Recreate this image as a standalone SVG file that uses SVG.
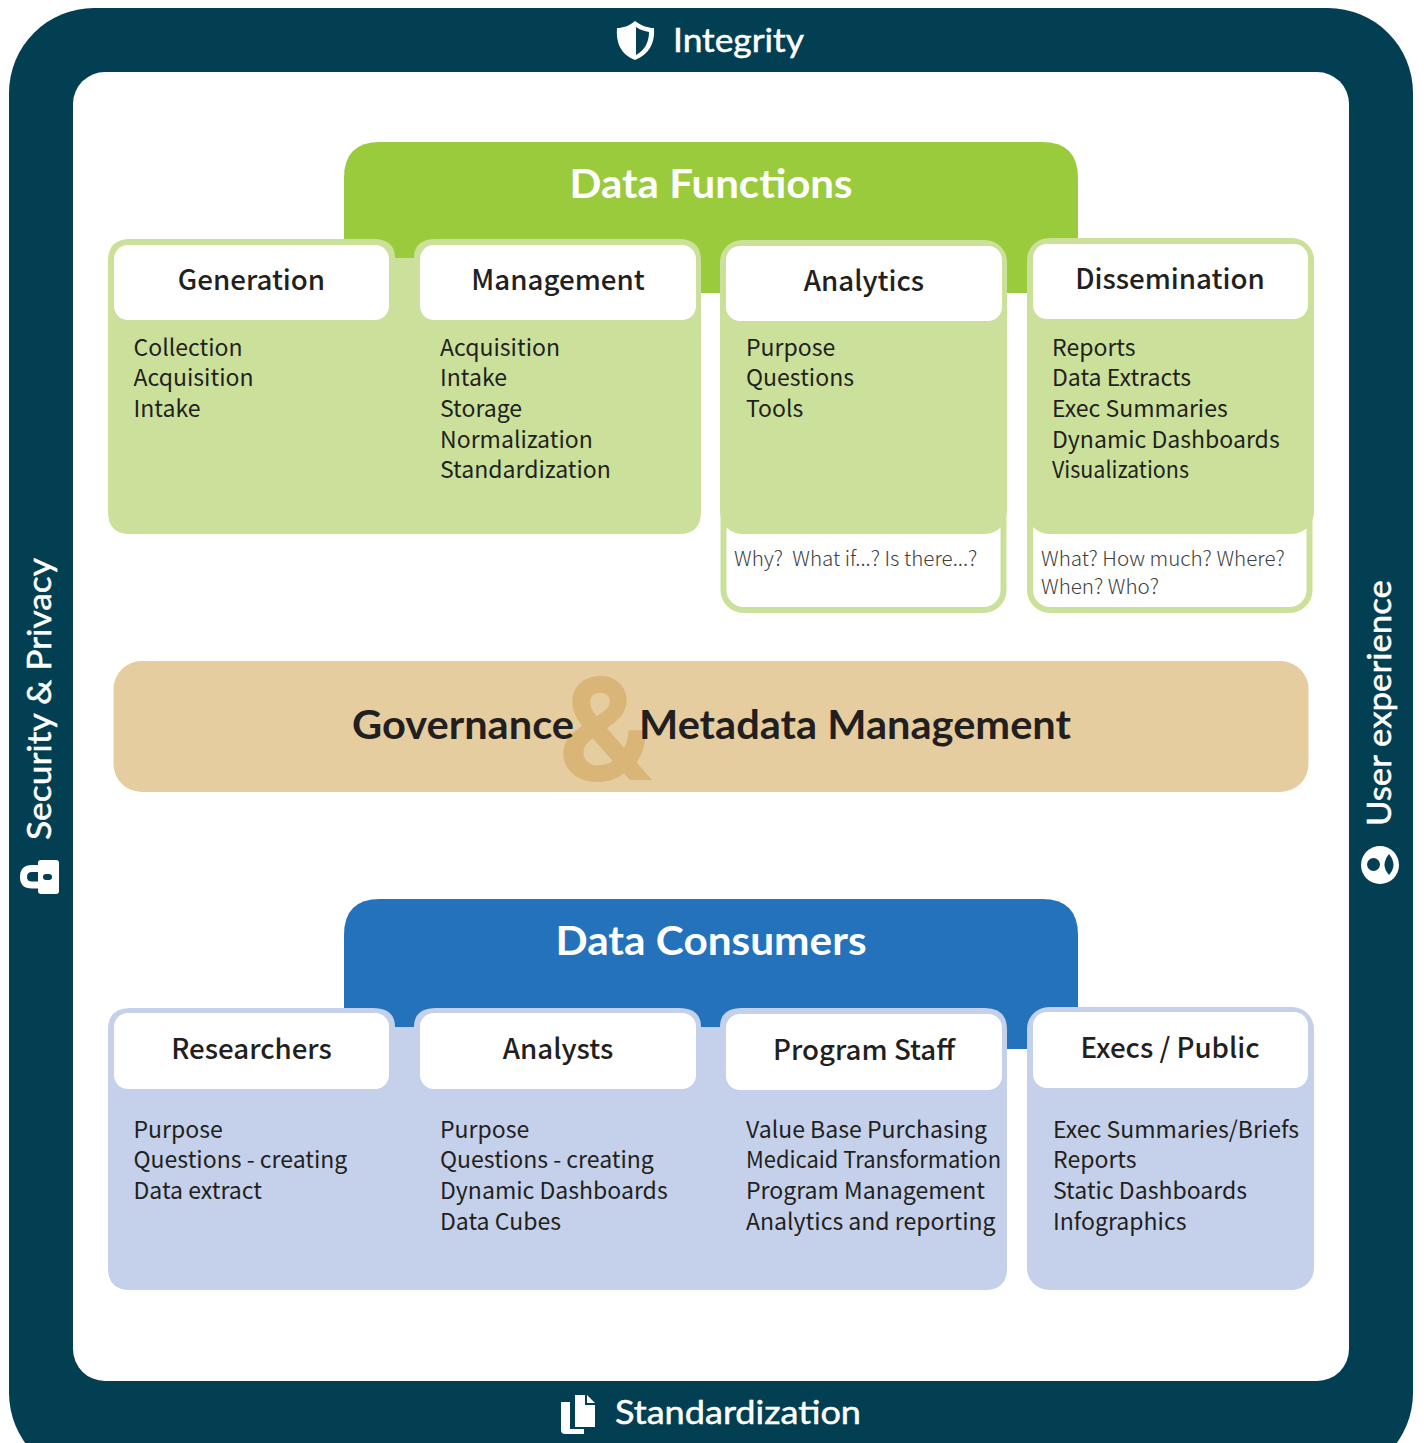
<svg xmlns="http://www.w3.org/2000/svg" width="1424" height="1443" viewBox="0 0 1424 1443">
<style>
.h{font-family:"Lato","Liberation Sans",sans-serif;font-weight:700}
.s{font-family:"Lato","Liberation Sans",sans-serif;font-weight:400;stroke:#fff;stroke-width:.5px}
.w{fill:#fff}
.t{font-family:"Noto Sans CJK SC","Noto Sans",sans-serif;font-size:23.05px;fill:#231f20}
.hd{font-family:"Noto Sans CJK SC","Noto Sans",sans-serif;font-size:27.7px;font-weight:500;fill:#231f20;text-anchor:middle}
.q{font-family:"Noto Sans CJK SC","Noto Sans",sans-serif;font-size:20.6px;font-weight:300;fill:#404040;white-space:pre}
.lg{fill:#cbe19b}
.lb{fill:#c5d1ea}
.hb{fill:#fff}
</style>
<g id="frame">
<rect x="9" y="8" width="1404" height="1470" rx="85" fill="#023f52"/>
<rect y="1443" width="1424" height="10" fill="#fff"/>
<rect x="73" y="72" width="1276" height="1309" rx="32" fill="#fff"/>
</g>
<g id="integrity">
<path class="w" d="M635 21 C642 26 648 28 654 28 C655 42 650 54 635 60 C620 54 616 42 617 28 C623 28 629 26 635 21Z"/>
<path fill="#023f52" d="M636 27 C640 30 645 31 649 32 C649 42 645 50 636 55Z"/>
<text class="s w" x="673" y="51.500" font-size="33" textLength="131" lengthAdjust="spacingAndGlyphs">Integrity</text>
</g>
<g id="standardization">
<path class="w" d="M575 1395 H587 L595 1403 V1427 H575Z"/>
<path class="w" d="M561 1402 H570 V1429 H584 V1434 H565 Q561 1434 561 1430Z"/>
<path fill="#023f52" d="M585 1395 H587 V1403 H595 V1405 H585Z"/>
<text class="s w" x="615" y="1424" font-size="33" textLength="246" lengthAdjust="spacingAndGlyphs">Standardization</text>
</g>
<g id="security">
<rect class="w" x="38" y="860" width="21" height="34" rx="3"/>
<path fill="none" stroke="#fff" stroke-width="7" d="M40 868.500 H32 Q23.500 868.500 23.500 877 Q23.500 885 32 885 H40"/>
<rect x="43" y="874" width="9" height="6" rx="3" fill="#023f52"/>
<text class="s w" transform="translate(51 840) rotate(-90)" font-size="33" textLength="282" lengthAdjust="spacingAndGlyphs">Security &amp; Privacy</text>
</g>
<g id="user-experience">
<circle class="w" cx="1380" cy="865" r="19"/>
<circle cx="1373.500" cy="864.500" r="6.500" fill="#023f52"/>
<path fill="#023f52" d="M1389 854 Q1380 865 1389 875 Q1398 865 1389 854Z"/>
<text class="s w" transform="translate(1391 826) rotate(-90)" font-size="33" textLength="246" lengthAdjust="spacingAndGlyphs">User experience</text>
</g>
<g id="data-functions">
<path fill="#9acb3c" d="M344 293 V178 Q344 142 380 142 H1042 Q1078 142 1078 178 V293Z"/>
<text class="h w" x="711" y="197.500" font-size="40" text-anchor="middle" textLength="283" lengthAdjust="spacingAndGlyphs">Data Functions</text>
</g>
<g id="generation-management">
<path class="lg" d="M130 239 H373 Q395 239 395 258 H414 Q414 239 436 239 H679 Q701 239 701 261 V512 Q701 534 679 534 H130 Q108 534 108 512 V261 Q108 239 130 239Z"/>
<rect class="hb" x="114" y="245" width="275" height="75" rx="14"/>
<rect class="hb" x="420" y="245" width="276" height="75" rx="14"/>
<text class="hd" x="251.500" y="290.300">Generation</text>
<text class="hd" x="558" y="290.300">Management</text>
<text class="t"><tspan x="133.500" y="355.500">Collection</tspan><tspan x="133.500" y="386.300">Acquisition</tspan><tspan x="133.500" y="416.500">Intake</tspan></text>
<text class="t"><tspan x="440" y="355.500">Acquisition</tspan><tspan x="440" y="386.300">Intake</tspan><tspan x="440" y="416.500">Storage</tspan><tspan x="440" y="447.500">Normalization</tspan><tspan x="440" y="478.300">Standardization</tspan></text>
</g>
<g id="analytics">
<rect x="723.500" y="500" width="280" height="110" rx="20" fill="#fff" stroke="#cbe19b" stroke-width="6"/>
<rect class="lg" x="720" y="240" width="287" height="294" rx="22"/>
<rect class="hb" x="726" y="246" width="276" height="75" rx="14"/>
<text class="hd" x="864" y="291.300">Analytics</text>
<text class="t"><tspan x="746" y="355.500">Purpose</tspan><tspan x="746" y="386.300">Questions</tspan><tspan x="746" y="416.500">Tools</tspan></text>
<text class="q" x="734" y="566">Why?  What if...? Is there...?</text>
</g>
<g id="dissemination">
<rect x="1030" y="500" width="279.500" height="110" rx="20" fill="#fff" stroke="#cbe19b" stroke-width="6"/>
<rect class="lg" x="1027" y="238" width="287" height="296" rx="22"/>
<rect class="hb" x="1033" y="244" width="275" height="75" rx="14"/>
<text class="hd" x="1170" y="289.300">Dissemination</text>
<text class="t" x="1052" y="355.500">Reports</text>
<text class="t" x="1052" y="386.300">Data Extracts</text>
<text class="t" x="1052" y="416.500">Exec Summaries</text>
<text class="t" x="1052" y="447.500">Dynamic Dashboards</text>
<text class="t" x="1052" y="478.300" textLength="137" lengthAdjust="spacingAndGlyphs">Visualizations</text>
<text class="q"><tspan x="1041" y="566">What? How much? Where?</tspan><tspan x="1041" y="594">When? Who?</tspan></text>
</g>
<g id="governance">
<rect x="113.500" y="661" width="1195" height="131" rx="28" fill="#e6cda0"/>
<text x="605" y="780" font-family="Inter,Liberation Sans,sans-serif" font-weight="700" font-size="141" fill="#d9b678" text-anchor="middle">&amp;</text>
<text class="h" x="352" y="738.500" font-size="40" fill="#231f20" textLength="222" lengthAdjust="spacingAndGlyphs">Governance</text>
<text class="h" x="639" y="738.500" font-size="40" fill="#231f20" textLength="432" lengthAdjust="spacingAndGlyphs">Metadata Management</text>
</g>
<g id="data-consumers">
<path fill="#2472bc" d="M344 1049 V935 Q344 899 380 899 H1042 Q1078 899 1078 935 V1049Z"/>
<text class="h w" x="711" y="954.500" font-size="40" text-anchor="middle" textLength="311" lengthAdjust="spacingAndGlyphs">Data Consumers</text>
</g>
<g id="researchers-analysts-staff">
<path class="lb" d="M130 1008 H373 Q395 1008 395 1027 H414 Q414 1008 436 1008 H679 Q701 1008 701 1027 H720 Q720 1008 742 1008 H985 Q1007 1008 1007 1030 V1268 Q1007 1290 985 1290 H130 Q108 1290 108 1268 V1030 Q108 1008 130 1008Z"/>
<rect class="hb" x="114" y="1013" width="275" height="76" rx="14"/>
<rect class="hb" x="420" y="1013" width="276" height="76" rx="14"/>
<rect class="hb" x="726" y="1014" width="276" height="76" rx="14"/>
<text class="hd" x="251.500" y="1059.300">Researchers</text>
<text class="hd" x="558" y="1059.300">Analysts</text>
<text class="hd" x="864" y="1060.300">Program Staff</text>
<text class="t"><tspan x="133.500" y="1137.500">Purpose</tspan><tspan x="133.500" y="1168.300">Questions - creating</tspan><tspan x="133.500" y="1198.500">Data extract</tspan></text>
<text class="t"><tspan x="440" y="1137.500">Purpose</tspan><tspan x="440" y="1168.300">Questions - creating</tspan><tspan x="440" y="1198.500">Dynamic Dashboards</tspan><tspan x="440" y="1229.500">Data Cubes</tspan></text>
<text class="t" x="746" y="1137.500">Value Base Purchasing</text>
<text class="t" x="746" y="1168.300" textLength="255" lengthAdjust="spacingAndGlyphs">Medicaid Transformation</text>
<text class="t" x="746" y="1198.500">Program Management</text>
<text class="t" x="746" y="1229.500">Analytics and reporting</text>
</g>
<g id="execs-public">
<rect class="lb" x="1027" y="1007" width="287" height="283" rx="22"/>
<rect class="hb" x="1033" y="1012" width="275" height="76" rx="14"/>
<text class="hd" x="1170" y="1058.300">Execs / Public</text>
<text class="t"><tspan x="1053" y="1137.500">Exec Summaries/Briefs</tspan><tspan x="1053" y="1168.300">Reports</tspan><tspan x="1053" y="1198.500">Static Dashboards</tspan><tspan x="1053" y="1229.500">Infographics</tspan></text>
</g>
</svg>
